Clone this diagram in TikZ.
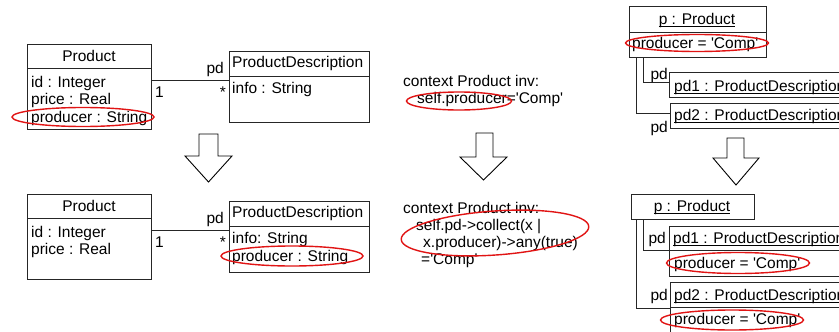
\documentclass[tikz,border=0pt]{standalone}
\usepackage{fontspec}
\setmainfont{Liberation Sans}
\newcommand\sq{\textquotesingle}
\newcommand\ulx[1]{\setbox0\hbox{#1}\rlap{\rule[-2.6pt]{\wd0}{1.1pt}}\box0}
\usetikzlibrary{shapes.geometric}
\definecolor{ringred}{RGB}{225,20,20}
\tikzset{
  box/.style={draw=black!85, line width=1pt, rectangle, inner sep=0pt, anchor=north west},
  ln/.style={draw=black!85, line width=1pt},
  txt/.style={anchor=base west, inner sep=0pt},
  ctxt/.style={anchor=base, inner sep=0pt},
  rtxt/.style={anchor=base east, inner sep=0pt},
  redring/.style={draw=ringred, line width=1.4pt, ellipse, inner sep=0pt},
  blockarrow/.style={draw=black, line width=0.9pt, fill=white, line join=miter}
}
\begin{document}
\begin{tikzpicture}[x=1pt,y=-1pt,font=\fontsize{15.5pt}{17pt}\selectfont]
\useasboundingbox (0,0) rectangle (839,332);
\clip (0,0) rectangle (839,332);
\fill[white] (0,0) rectangle (839,332);

% ---------- top left class diagram ----------
\node[box, minimum width=124pt, minimum height=85pt] (P1) at (27,44) {};
\draw[ln] (27,68) -- (151,68);
\node[ctxt] (P1n) at (89,61.5) {Product};
\node[txt] (P1a) at (31,87.5) {id : Integer};
\node[txt] (P1b) at (31,104.5) {price : Real};
\node[txt] (P1c) at (31,122.5) {producer : String};
\node[box, minimum width=140pt, minimum height=71pt] (D1) at (229,51) {};
\draw[ln] (229,76) -- (369,76);
\node[txt] (D1n) at (232,67.5) {ProductDescription};
\node[txt] (D1a) at (232,93.5) {info : String};
\draw[ln] (P1.east |- 0,80) -- (D1.west |- 0,80);
\node[rtxt] (r1) at (224,73) {pd};
\node[txt] (m1) at (155,97.5) {1};
\node[rtxt] (s1) at (226,97.5) {*};
\node[redring, minimum width=142pt, minimum height=19pt] (E1) at (83,117) {};

% ---------- bottom left class diagram ----------
\node[box, minimum width=124pt, minimum height=85pt] (P2) at (27,194) {};
\draw[ln] (27,218) -- (151,218);
\node[ctxt] (P2n) at (89,211.5) {Product};
\node[txt] (P2a) at (31,237.5) {id : Integer};
\node[txt] (P2b) at (31,254.5) {price : Real};
\node[box, minimum width=140pt, minimum height=71pt] (D2) at (229,201) {};
\draw[ln] (229,226) -- (369,226);
\node[txt] (D2n) at (232,217.5) {ProductDescription};
\node[txt] (D2a) at (232,243.5) {info: String};
\node[txt] (D2b) at (232,261.5) {producer : String};
\draw[ln] (P2.east |- 0,230) -- (D2.west |- 0,230);
\node[rtxt] (r2) at (224,223) {pd};
\node[txt] (m2) at (155,247.5) {1};
\node[rtxt] (s2) at (226,247.5) {*};
\node[redring, minimum width=142pt, minimum height=20pt] (E2) at (292,256) {};

% ---------- OCL ----------
\node[txt] (o1) at (403,86.5) {context Product inv:};
\node[txt] (o2) at (417,103.5) {self.producer=\sq Comp\sq};
\node[redring, minimum width=105pt, minimum height=18pt] (E3) at (459,101) {};
\node[txt] (o3) at (403,213) {context Product inv:};
\node[txt] (o4) at (416,230) {self.pd->collect(x |};
\node[txt] (o5) at (423,247.5) {x.producer)->any(true)};
\node[txt] (o6) at (421,264.5) {=\sq Comp\sq};
\node[redring, minimum width=188pt, minimum height=44pt, rotate=4] (E4) at (495,233) {};

% ---------- object diagrams top right ----------
\node[box, minimum width=137pt, minimum height=51pt] (Q1) at (629,6) {};
\draw[ln] (629,32) -- (766,32);
\node[ctxt] (Q1n) at (697,24.5) {\ulx{p : Product}};
\node[txt] (Q1a) at (632,48.5) {producer = \sq Comp\sq};
\node[redring, minimum width=143pt, minimum height=17pt] (E5) at (697,43) {};
\node[box, minimum width=190pt, minimum height=25pt] (A1) at (669,72) {};
\node[txt] (A1n) at (674,91) {\ulx{pd1 : ProductDescription}};
\node[box, minimum width=190pt, minimum height=25pt] (B1) at (670,103) {};
\node[txt] (B1n) at (674,120.5) {\ulx{pd2 : ProductDescription}};
\draw[ln] (Q1.south -| 643,0) |- (A1.west |- 0,82);
\draw[ln] (Q1.south -| 636,0) |- (B1.west |- 0,113);
\node[rtxt] (r3) at (668,79) {pd};
\node[rtxt] (r4) at (668,132) {pd};

% ---------- object diagrams bottom right ----------
\node[box, minimum width=123pt, minimum height=25pt] (Q2) at (631,194) {};
\node[ctxt] (Q2n) at (692,211.5) {\ulx{p : Product}};
\node[box, minimum width=190pt, minimum height=50pt] (A2) at (669,226) {};
\draw[ln] (669,250) -- (859,250);
\node[txt] (A2n) at (673,243) {\ulx{pd1 : ProductDescription}};
\node[txt] (A2a) at (674,268) {producer = \sq Comp\sq};
\node[redring, minimum width=143pt, minimum height=21pt] (E6) at (738,263) {};
\node[box, minimum width=190pt, minimum height=70pt] (B2) at (670,282) {};
\draw[ln] (670,307) -- (860,307);
\node[txt] (B2n) at (674,300) {\ulx{pd2 : ProductDescription}};
\node[txt] (B2a) at (674,324.5) {producer = \sq Comp\sq};
\node[redring, minimum width=143pt, minimum height=20pt] (E7) at (732,320) {};
\draw[ln] (Q2.south -| 643,0) |- (A2.west |- 0,250);
\draw[ln] (Q2.south -| 636,0) |- (B2.west |- 0,308);
\node[rtxt] (r5) at (666,243.5) {pd};
\node[rtxt] (r6) at (668,300.5) {pd};

% ---------- block arrows ----------
\draw[blockarrow] (199,134) -- (218,134) -- (218,156) -- (232,156) -- (208.5,182) -- (185,156) -- (199,156) -- cycle;
\draw[blockarrow] (476,133) -- (493,133) -- (493,157) -- (507,157) -- (483.5,180) -- (460,157) -- (476,157) -- cycle;
\draw[blockarrow] (727,138) -- (744,138) -- (744,158) -- (759,158) -- (736,185) -- (713,158) -- (727,158) -- cycle;
\end{tikzpicture}
\end{document}
